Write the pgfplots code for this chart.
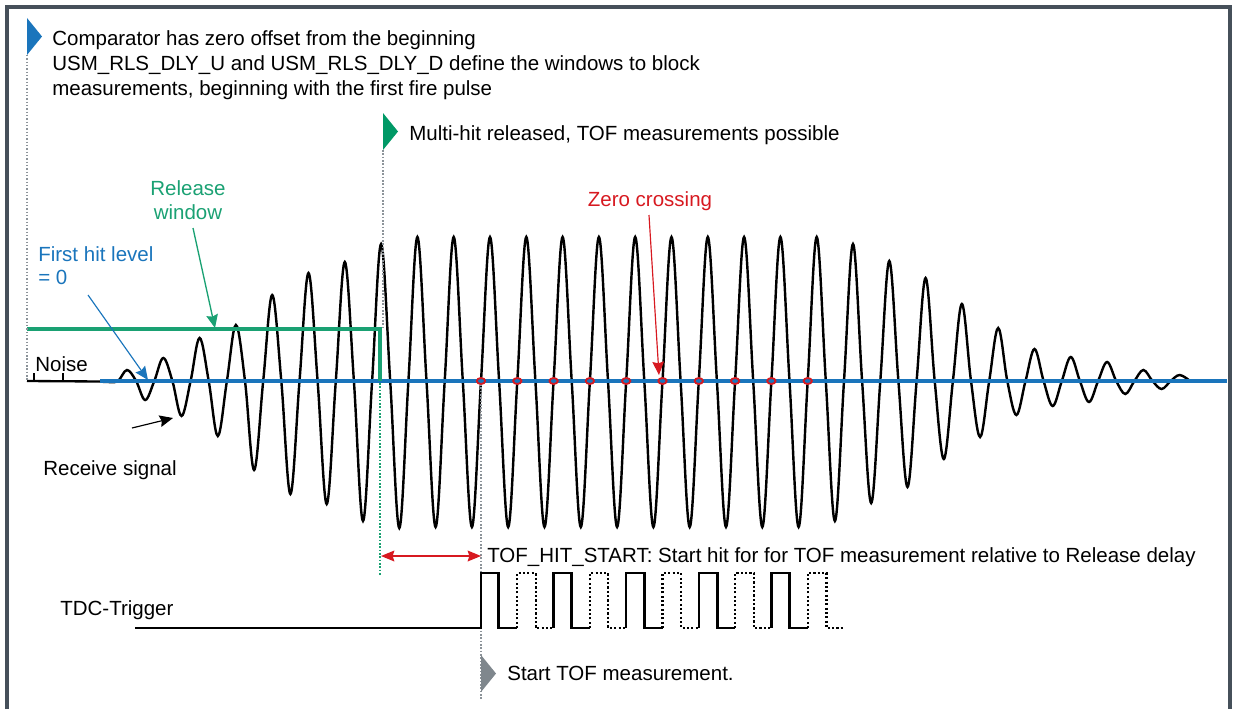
\documentclass[border=0pt]{standalone}
\usepackage{fontspec}
\setmainfont{Liberation Sans}
\usepackage{pgfplots}
\pgfplotsset{compat=1.18}
\usetikzlibrary{arrows.meta}
\definecolor{cblue}{HTML}{1A75BC}
\definecolor{cgreen}{HTML}{1AA173}
\definecolor{cgreenD}{HTML}{009966}
\definecolor{cred}{HTML}{D71920}
\definecolor{cgray}{HTML}{8C9399}
\definecolor{ctri}{HTML}{7F878D}
\definecolor{cframe}{HTML}{46505A}
\tikzset{txt/.style={inner sep=0pt, font=\fontsize{12.3}{15}\selectfont, align=left},
  dotl/.style={line width=0.7pt, dash pattern=on 0.9pt off 1.1pt}}
\begin{document}
\begin{tikzpicture}
\begin{axis}[scale only axis, width=742.2pt, height=425.4pt,
  xmin=0, xmax=1237, ymin=0, ymax=709, y dir=reverse,
  hide axis, clip=false, unbounded coords=jump]
\path (axis cs:0,0) rectangle (axis cs:1237,709);
% frame
\addplot[cframe, line width=2pt] coordinates {(7,709) (7,7) (1230,7) (1230,709)};
% noise line
\addplot[black, line width=1.4pt] coordinates {(27,381) (100,381.5)};
\addplot[black, line width=0.8pt] coordinates {(34,381) (34,373) (nan,nan) (63,381) (63,373)};
% receive signal
\addplot[black, line width=1.45pt, smooth, tension=0.6] table {
x y
100 381.5
108 382
117.9 381
127.0 370
136.1 381
145.2 400
154.3 381
163.3 358
172.4 381
181.5 416
190.6 381
199.6 338
208.7 381
217.8 436
226.9 381
235.9 325
245.0 381
254.1 470
263.2 381
272.2 295
281.3 381
290.4 494
299.5 381
308.5 273
317.6 381
326.7 504
335.8 381
344.8 262
353.9 381
363.0 521
372.1 381
381.1 244
390.2 381
399.3 528
408.4 381
417.4 237
426.5 381
435.6 527
444.7 381
453.7 237
462.8 381
471.9 527
481.0 381
490.0 237
499.1 381
508.2 527
517.3 381
526.3 237
535.4 381
544.5 527
553.6 381
562.6 237
571.7 381
580.8 527
589.9 381
598.9 237
608.0 381
617.1 527
626.2 381
635.2 237
644.3 381
653.4 527
662.5 381
671.5 237
680.6 381
689.7 527
698.8 381
707.8 237
716.9 381
726.0 527
735.1 381
744.1 237
753.2 381
762.3 527
771.4 381
780.4 237
789.5 381
798.6 527
807.7 381
816.7 237
825.8 381
834.9 521
844.0 381
853.0 244
862.1 381
871.2 503
880.3 381
889.3 261
898.4 381
907.5 487
916.6 381
925.6 278
934.7 381
943.8 459
952.9 381
961.9 304
971.0 381
980.1 437
989.2 381
998.2 328
1007.3 381
1016.4 415
1025.5 381
1034.5 349
1043.6 381
1052.7 406
1061.8 381
1070.8 357
1079.9 381
1089.0 402
1098.1 381
1107.1 362
1116.2 381
1125.3 394
1134.4 381
1143.4 370
1152.5 381
1161.6 389
1170.7 381
1179.7 375
1190.0 381
};
% first hit level (zero line)
\addplot[cblue, line width=2pt] coordinates {(100,381) (1227,381)};
% release window
\addplot[cgreen, line width=2pt] coordinates {(27,329) (380,329) (380,381)};
% dotted markers
\addplot[cgray, dotl] coordinates {(27,55) (27,381)};
\addplot[cgray, dotl] coordinates {(383,150) (383,327)};
\addplot[cgreen, dotl] coordinates {(380,383) (380,576)};
\addplot[cgray, dotl] coordinates {(481,384) (481,700)};
% zero crossings
\addplot[only marks, mark=o, mark size=2.5pt, cred, mark options={yscale=0.72, line width=1.1pt}] coordinates {
(481.0,381) (517.3,381) (553.6,381) (589.9,381) (626.2,381) (662.5,381) (698.8,381) (735.1,381) (771.4,381) (807.7,381)};
% TDC trigger (released hits solid, others dotted)
\addplot[black, line width=1.5pt] coordinates {
(135,628) (481.0,628) (481.0,573) (498.5,573) (498.5,628) (517.3,628) (nan,nan)
(553.6,628) (553.6,573) (571.7,573) (571.7,628) (589.9,628) (nan,nan)
(626.2,628) (626.2,573) (644.3,573) (644.3,628) (662.5,628) (nan,nan)
(698.8,628) (698.8,573) (717.5,573) (717.5,628) (735.1,628) (nan,nan)
(771.4,628) (771.4,573) (789.5,573) (789.5,628) (807.7,628)};
\addplot[black, line width=1.3pt, dash pattern=on 1.3pt off 1.3pt] coordinates {
(517.3,628) (517.3,573) (535.6,573) (535.6,628) (553.6,628) (nan,nan)
(589.9,628) (589.9,573) (608.2,573) (608.2,628) (626.2,628) (nan,nan)
(662.5,628) (662.5,573) (681.0,573) (681.0,628) (698.8,628) (nan,nan)
(735.1,628) (735.1,573) (754.0,573) (754.0,628) (771.4,628) (nan,nan)
(807.7,628) (807.7,573) (826.5,573) (826.5,628) (845,628)};
% flags
\addplot[fill=cblue, draw=none] coordinates {(27,18) (42,36.5) (27,55)} --cycle;
\addplot[fill=cgreenD, draw=none] coordinates {(383,113) (398,131.5) (383,150)} --cycle;
\addplot[fill=ctri, draw=none] coordinates {(481,655) (496,673.5) (481,692)} --cycle;
% arrows
\draw[cgreen, line width=0.8pt, -{Stealth[length=8pt, width=7pt, inset=1pt]}] (axis cs:193,228) -- (axis cs:215,328);
\draw[cblue, line width=0.7pt, -{Stealth[length=8pt, width=7pt, inset=1pt]}] (axis cs:88,295) -- (axis cs:148,380);
\draw[black, line width=0.7pt, -{Stealth[length=8pt, width=7pt, inset=1pt]}] (axis cs:132,428) -- (axis cs:173,418);
\draw[cred, line width=0.7pt, -{Stealth[length=8pt, width=7pt, inset=1pt]}] (axis cs:649,215) -- (axis cs:659,375);
\draw[cred, line width=0.8pt, {Stealth[length=8pt, width=6.5pt, inset=1pt]}-{Stealth[length=8pt, width=6.5pt, inset=1pt]}] (axis cs:381,556) -- (axis cs:481,556);
% texts
\node[txt, anchor=west] at (axis cs:52,65) {Comparator has zero offset from the beginning\\USM\_RLS\_DLY\_U and USM\_RLS\_DLY\_D define the windows to block\\measurements, beginning with the first fire pulse};
\node[txt, anchor=west] at (axis cs:409,135) {Multi-hit released, TOF measurements possible};
\node[txt, anchor=center, text=cred] at (axis cs:650,201) {Zero crossing};
\node[txt, anchor=center, align=center, text=cgreen, font=\fontsize{12.3}{14.4}\selectfont] at (axis cs:188,200) {Release\\window};
\node[txt, anchor=west, text=cblue, font=\fontsize{12.3}{13.8}\selectfont] at (axis cs:38,266) {First hit level\\= 0};
\node[txt, anchor=west] at (axis cs:35,364) {Noise};
\node[txt, anchor=west] at (axis cs:43,470) {Receive signal};
\node[txt, anchor=west] at (axis cs:487,557) {TOF\_HIT\_START: Start hit for for TOF measurement relative to Release delay};
\node[txt, anchor=west] at (axis cs:60,610) {TDC-Trigger};
\node[txt, anchor=west] at (axis cs:507,673) {Start TOF measurement.};
\end{axis}
\end{tikzpicture}
\end{document}
